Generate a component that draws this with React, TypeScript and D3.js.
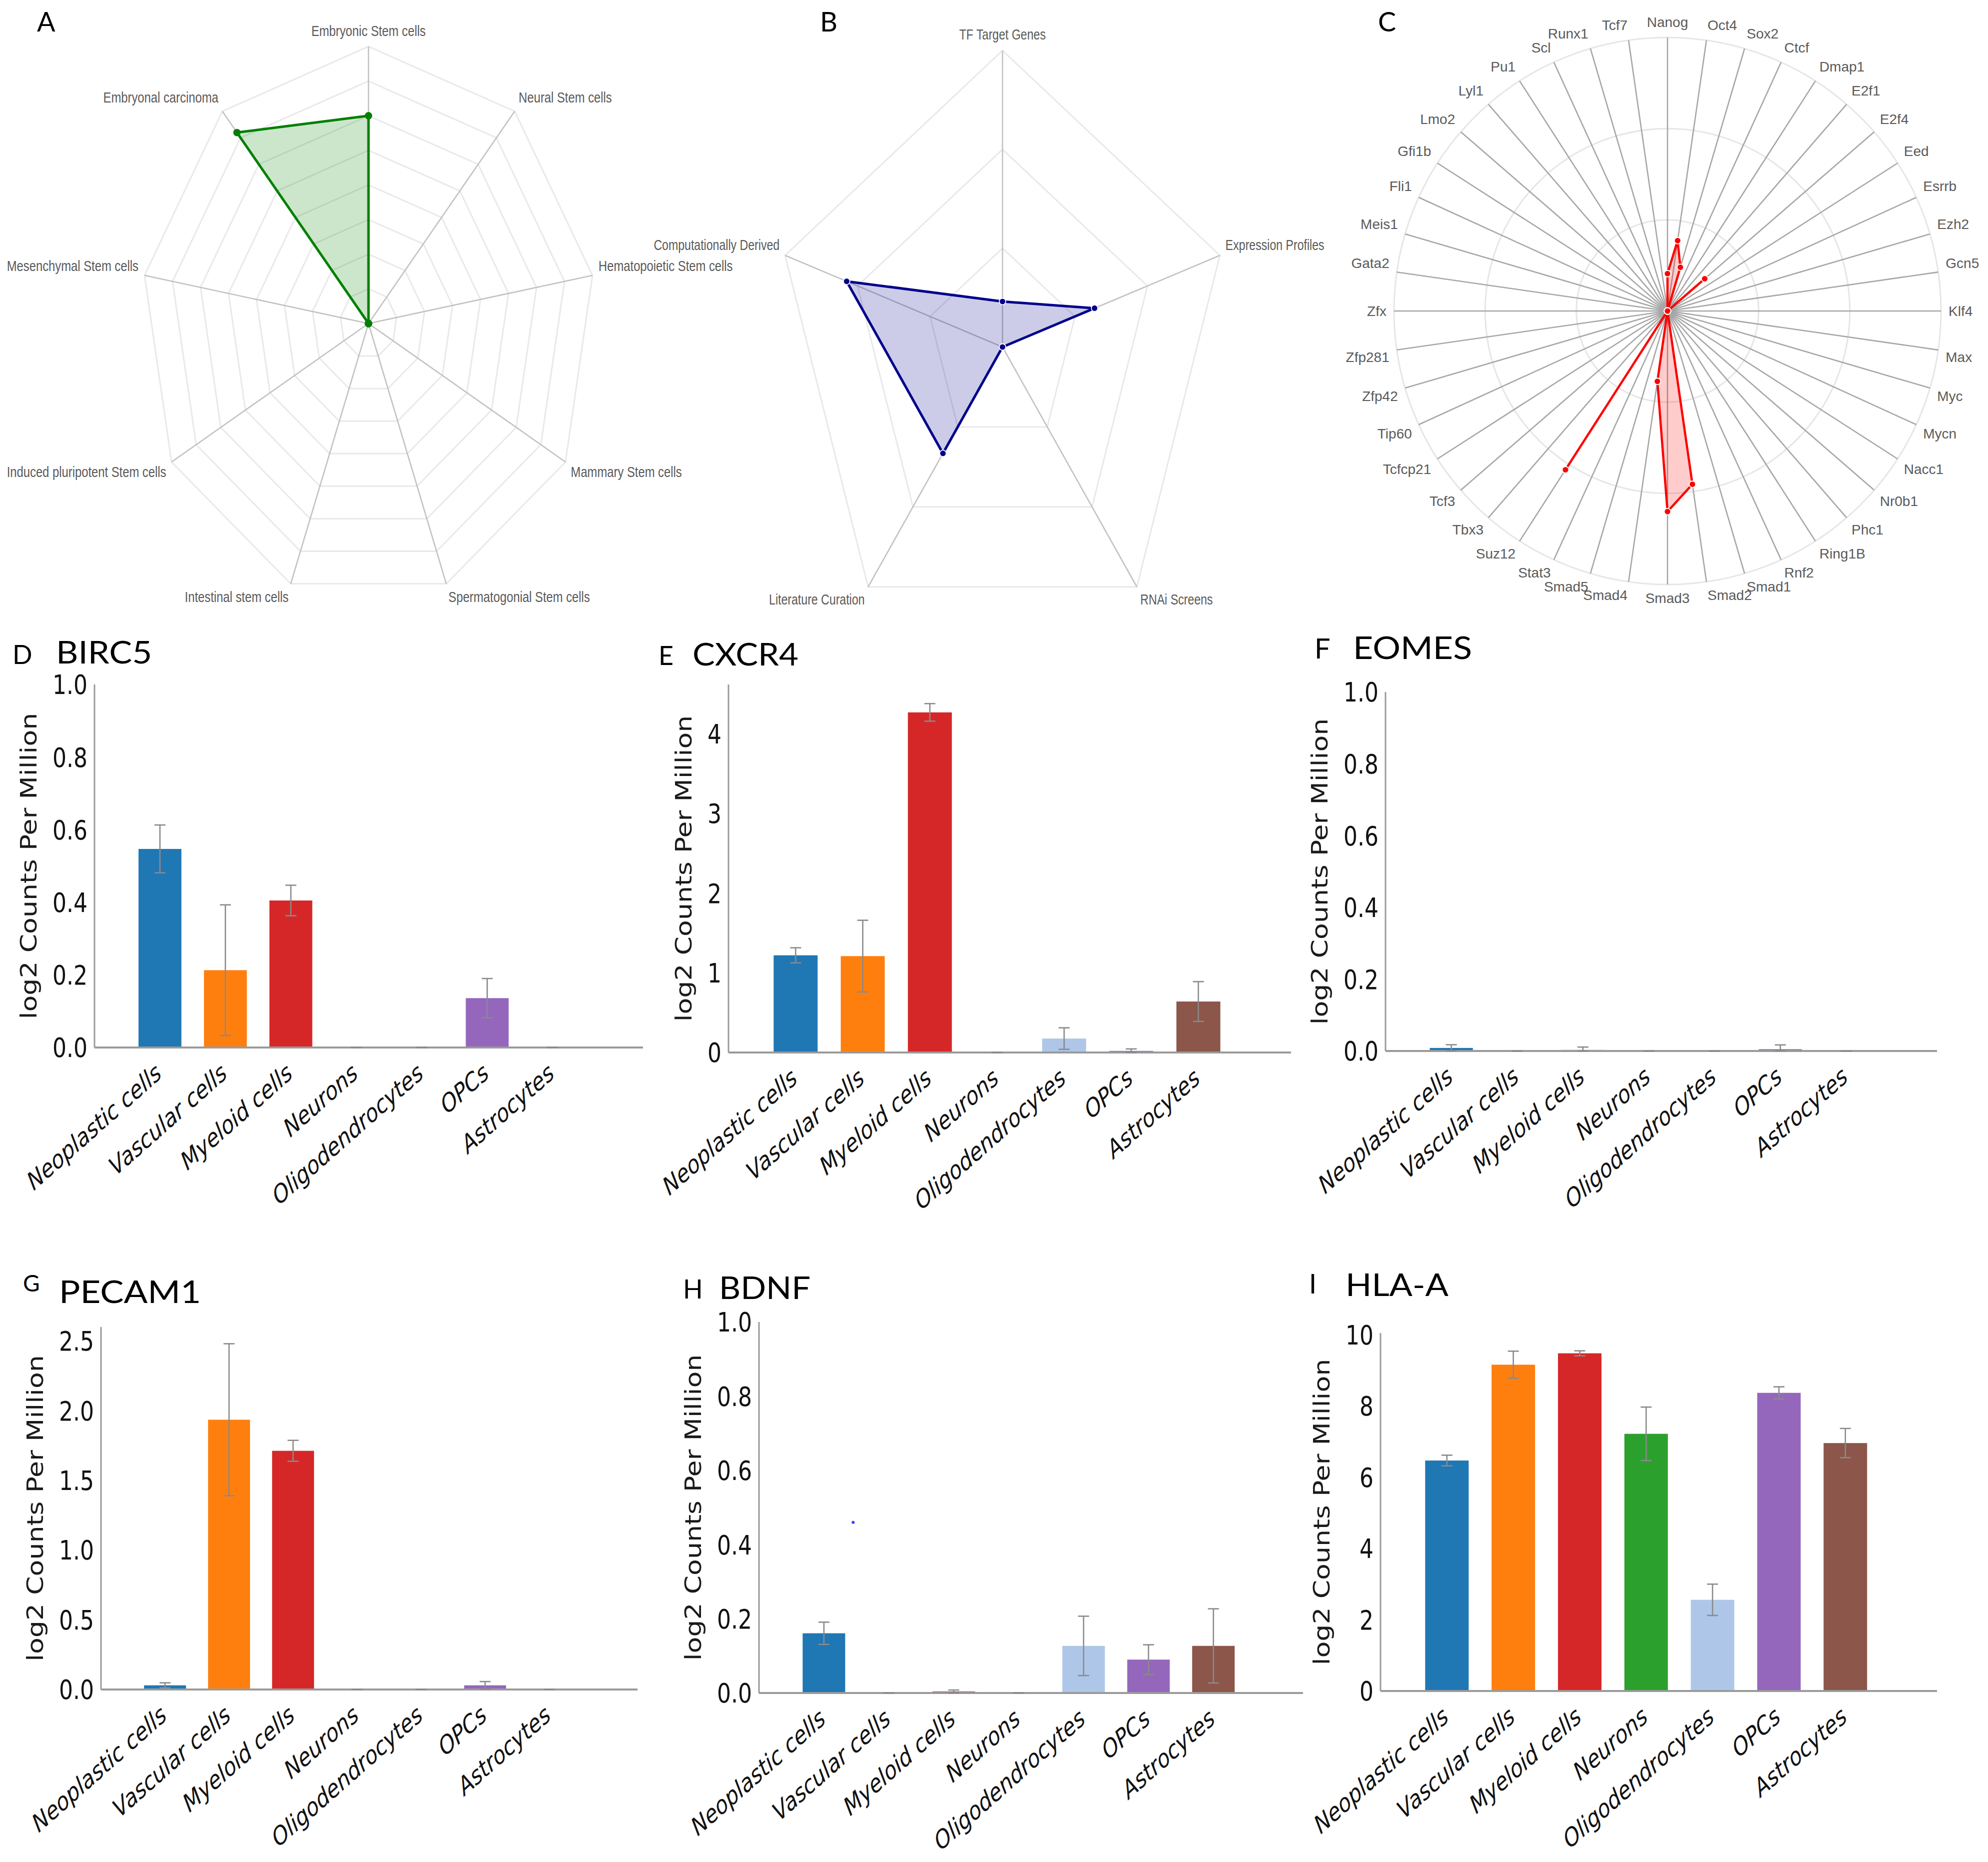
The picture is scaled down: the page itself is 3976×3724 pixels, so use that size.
import React from "react";
import * as d3 from "d3";

const W = 3976;
const H = 3724;

// ---------- Panel A: stem cell types ----------
const stemCellTypes = [
  "Embryonic Stem cells",
  "Neural Stem cells",
  "Hematopoietic Stem cells",
  "Mammary Stem cells",
  "Spermatogonial Stem cells",
  "Intestinal stem cells",
  "Induced pluripotent Stem cells",
  "Mesenchymal Stem cells",
  "Embryonal carcinoma",
];
const stemCellScores = [6.0, 0, 0, 0, 0, 0, 0, 0, 7.2];
const stemCellRings = [1, 2, 3, 4, 5, 6, 7, 8];

// ---------- Panel B: evidence types ----------
const evidenceTypes = [
  "TF Target Genes",
  "Expression Profiles",
  "RNAi Screens",
  "Literature Curation",
  "Computationally Derived",
];
const evidenceScores = [0.46, 1.27, 0, 1.33, 2.15];
const evidenceRings = [1, 2, 3];

// ---------- Panel C: transcription factors ----------
const tfNames = [
  "Nanog", "Oct4", "Sox2", "Ctcf", "Dmap1", "E2f1", "E2f4", "Eed", "Esrrb", "Ezh2", "Gcn5",
  "Klf4", "Max", "Myc", "Mycn", "Nacc1", "Nr0b1", "Phc1", "Ring1B", "Rnf2", "Smad1", "Smad2",
  "Smad3", "Smad4", "Smad5", "Stat3", "Suz12", "Tbx3", "Tcf3", "Tcfcp21", "Tip60", "Zfp42",
  "Zfp281", "Zfx", "Gata2", "Meis1", "Fli1", "Gfi1b", "Lmo2", "Lyl1", "Pu1", "Scl", "Runx1", "Tcf7",
];
const tfScores = [
  0.41, 0.78, 0.5, 0, 0, 0, 0.54, 0, 0, 0, 0,
  0, 0, 0, 0, 0, 0, 0, 0, 0, 0, 1.92,
  2.2, 0.78, 0, 0, 2.07, 0, 0, 0, 0, 0,
  0, 0, 0, 0, 0, 0, 0, 0, 0, 0, 0, 0,
];
const tfRings = [1, 2, 3];

// ---------- Bar panels ----------
const cellTypes = [
  "Neoplastic cells",
  "Vascular cells",
  "Myeloid cells",
  "Neurons",
  "Oligodendrocytes",
  "OPCs",
  "Astrocytes",
];
const cellColors = ["#1f77b4", "#ff7f0e", "#d62728", "#2ca02c", "#aec7e8", "#9467bd", "#8c564b"];

const birc5Mean = [0.547, 0.213, 0.405, 0, 0, 0.136, 0];
const birc5Err = [0.066, 0.18, 0.042, 0, 0, 0.054, 0];
const cxcr4Mean = [1.22, 1.21, 4.27, 0, 0.175, 0.02, 0.64];
const cxcr4Err = [0.095, 0.45, 0.11, 0, 0.135, 0.025, 0.25];
const eomesMean = [0.0085, 0, 0.003, 0, 0, 0.005, 0];
const eomesErr = [0.009, 0, 0.008, 0, 0, 0.012, 0];
const pecam1Mean = [0.03, 1.935, 1.712, 0, 0, 0.03, 0];
const pecam1Err = [0.018, 0.545, 0.075, 0, 0, 0.027, 0];
const bdnfMean = [0.161, 0, 0.004, 0, 0.127, 0.09, 0.127];
const bdnfErr = [0.03, 0, 0.004, 0, 0.08, 0.04, 0.1];
const hlaMean = [6.47, 9.16, 9.48, 7.22, 2.56, 8.37, 6.96];
const hlaErr = [0.15, 0.38, 0.07, 0.75, 0.44, 0.17, 0.41];
const bdnfStrayPoint = [0.45, 0.46];

const ticksUnit = [0, 0.2, 0.4, 0.6, 0.8, 1.0];
const ticksCxcr4 = [0, 1, 2, 3, 4];
const ticksPecam1 = [0, 0.5, 1.0, 1.5, 2.0, 2.5];
const ticksHla = [0, 2, 4, 6, 8, 10];

const yLabel = "log2 Counts Per Million";

// ---------- Radar component ----------
type RadarProps = {
  cx: number;
  cy: number;
  R: number;
  sx: number;
  labels: string[];
  values: number[];
  rings: number[];
  max: number;
  shape: "polygon" | "circle";
  color: string;
  fill: string;
  spokeColor: string;
  ringColor: string;
  fontSize: number;
  lineWidth: number;
  markerR: number;
  markerStroke: string;
};

function Radar(p: RadarProps) {
  const n = p.labels.length;
  const r = d3.scaleLinear().domain([0, p.max]).range([0, p.R]);
  const ang = (i: number) => (i * 2 * Math.PI) / n;
  const pt = (i: number, rad: number): [number, number] => [
    p.cx + p.sx * rad * Math.sin(ang(i)),
    p.cy - rad * Math.cos(ang(i)),
  ];
  const closed = d3.line().curve(d3.curveLinearClosed);
  const idx = d3.range(n);
  const dataPts = idx.map((i) => pt(i, r(p.values[i])));
  const pad = 15;
  const fs = p.fontSize;
  return (
    <g>
      {p.rings.map((v) =>
        p.shape === "polygon" ? (
          <path
            key={"ring" + v}
            d={closed(idx.map((i) => pt(i, r(v)))) || ""}
            fill="none"
            stroke={p.ringColor}
            strokeWidth={3}
          />
        ) : (
          <ellipse
            key={"ring" + v}
            cx={p.cx}
            cy={p.cy}
            rx={p.sx * r(v)}
            ry={r(v)}
            fill="none"
            stroke={p.ringColor}
            strokeWidth={3}
          />
        )
      )}
      {idx.map((i) => {
        const [x2, y2] = pt(i, p.R);
        return (
          <line
            key={"spoke" + i}
            x1={p.cx}
            y1={p.cy}
            x2={x2}
            y2={y2}
            stroke={p.spokeColor}
            strokeWidth={2.6}
          />
        );
      })}
      <path d={closed(dataPts) || ""} fill={p.fill} stroke="none" />
      <path
        d={closed(dataPts) || ""}
        fill="none"
        stroke={p.color}
        strokeWidth={p.lineWidth}
        strokeLinejoin="round"
      />
      {dataPts.map(([x, y], i) => (
        <circle
          key={"m" + i}
          cx={x}
          cy={y}
          r={p.markerR}
          fill={p.color}
          stroke={p.markerStroke}
          strokeWidth={1.8}
        />
      ))}
      {idx.map((i) => {
        const a = ang(i);
        const s = Math.sin(a);
        const c = Math.cos(a);
        const [x, y] = pt(i, p.R + pad);
        const anchor = s > 0.1 ? "start" : s < -0.1 ? "end" : "middle";
        const dy = c > 0.1 ? -0.22 * fs : c < -0.1 ? 0.78 * fs : 0.36 * fs;
        return (
          <text
            key={"lab" + i}
            transform={`translate(${x},${y}) scale(${p.sx},1)`}
            y={dy}
            textAnchor={anchor}
            fontSize={fs}
            fontFamily="'Liberation Sans', Arial, sans-serif"
            fill="#5a5a5a"
          >
            {p.labels[i]}
          </text>
        );
      })}
    </g>
  );
}

// ---------- Bar component ----------
const K = 1.22; // vertical stretch of the bar panels
const TF = 44; // tick font size
const XF = 41; // x tick label font size

type BarProps = {
  axisX: number;
  topY: number;
  zeroY: number;
  rightX: number;
  yMax: number;
  ticks: number[];
  decimals: number;
  means: number[];
  errs: number[];
  letter: string;
  letterX: number;
  letterY: number;
  letterSize: number;
  title: string;
  titleX: number;
  titleY: number;
  titleW: number;
  stray?: number[];
};

function BarPanel(p: BarProps) {
  const x = d3.scaleLinear().domain([-1, 7.38]).range([p.axisX, p.rightX]);
  const y = d3.scaleLinear().domain([0, p.yMax]).range([p.zeroY, p.topY]);
  const bw = x(0.655) - x(0);
  const fmt = d3.format(`.${p.decimals}f`);
  const maxChars = d3.max(p.ticks.map((t) => fmt(t).length)) || 1;
  const hasDot = p.decimals > 0;
  const tickW = (hasDot ? (maxChars - 1) * 0.636 + 0.318 : maxChars * 0.636) * TF;
  const labelX = p.axisX - 14 - tickW - 27 - 20;
  const capHalf = 11;
  return (
    <g>
      <text
        x={p.letterX}
        y={p.letterY}
        fontSize={p.letterSize}
        fontFamily="Lato, 'Open Sans', sans-serif"
        fill="#000"
      >
        {p.letter}
      </text>
      <text
        x={p.titleX}
        y={p.titleY}
        fontSize={62}
        fontFamily="Lato, 'Open Sans', sans-serif"
        fill="#000"
        textLength={p.titleW}
        lengthAdjust="spacingAndGlyphs"
      >
        {p.title}
      </text>
      {p.means.map((m, i) => (
        <rect
          key={"b" + i}
          x={x(i) - bw / 2}
          y={y(m)}
          width={bw}
          height={Math.max(0, p.zeroY - y(m))}
          fill={cellColors[i]}
        />
      ))}
      <line x1={p.axisX} y1={p.zeroY} x2={p.axisX} y2={p.topY} stroke="#9a9a9a" strokeWidth={3} />
      <line x1={p.axisX} y1={p.zeroY} x2={p.rightX} y2={p.zeroY} stroke="#9a9a9a" strokeWidth={4} />
      {p.means.map((m, i) => {
        const lo = y(Math.max(0, m - p.errs[i]));
        const hi = y(m + p.errs[i]);
        const cx = x(i);
        return (
          <g key={"e" + i} stroke="#8a8a8a" strokeWidth={2.6}>
            <line x1={cx} x2={cx} y1={lo} y2={hi} />
            <line x1={cx - capHalf} x2={cx + capHalf} y1={hi} y2={hi} />
            <line x1={cx - capHalf} x2={cx + capHalf} y1={lo} y2={lo} />
          </g>
        );
      })}
      {p.stray ? (
        <circle cx={x(p.stray[0])} cy={y(p.stray[1])} r={3} fill="#3a3aff" />
      ) : null}
      {p.ticks.map((t) => (
        <text
          key={"t" + t}
          transform={`translate(${p.axisX - 14},${y(t)}) scale(1,${K})`}
          y={0.36 * TF}
          textAnchor="end"
          fontSize={TF}
          fontFamily="'DejaVu Sans', sans-serif"
          fill="#111"
        >
          {fmt(t)}
        </text>
      ))}
      {cellTypes.map((c, i) => (
        <text
          key={"x" + i}
          transform={`translate(${x(i) + 6},${p.zeroY + 58}) scale(1,${K}) rotate(-36)`}
          textAnchor="end"
          fontSize={XF}
          fontStyle="italic"
          fontFamily="'DejaVu Sans', sans-serif"
          fill="#111"
        >
          {c}
        </text>
      ))}
      <text
        transform={`translate(${labelX},${(p.zeroY + p.topY) / 2}) scale(1,${K}) rotate(-90)`}
        y={15}
        textAnchor="middle"
        fontSize={TF}
        fontFamily="'DejaVu Sans', sans-serif"
        fill="#1a1a1a"
      >
        {yLabel}
      </text>
    </g>
  );
}

export default function App() {
  const letterStyle = {
    fontSize: 54,
    fontFamily: "Lato, 'Open Sans', sans-serif",
    fill: "#000",
  } as const;
  return (
    <svg
      width={W}
      height={H}
      viewBox={`0 0 ${W} ${H}`}
      style={{ position: "absolute", left: 0, top: 0, background: "#fff", display: "block" }}
    >
      <rect x={0} y={0} width={W} height={H} fill="#fff" />

      {/* Row 1 radars */}
      <text x={74} y={63} {...letterStyle}>A</text>
      <text x={1640} y={63} {...letterStyle}>B</text>
      <text x={2756} y={63} {...letterStyle}>C</text>

      <Radar
        cx={737}
        cy={647}
        R={554}
        sx={0.821}
        labels={stemCellTypes}
        values={stemCellScores}
        rings={stemCellRings}
        max={8}
        shape="polygon"
        color="#008000"
        fill="rgba(0,128,0,0.2)"
        spokeColor="#c2c2c2"
        ringColor="#e9e9e9"
        fontSize={29}
        lineWidth={5}
        markerR={6.5}
        markerStroke="#008000"
      />
      <Radar
        cx={2005}
        cy={694}
        R={593}
        sx={0.771}
        labels={evidenceTypes}
        values={evidenceScores}
        rings={evidenceRings}
        max={3}
        shape="polygon"
        color="#00008b"
        fill="rgba(0,0,139,0.2)"
        spokeColor="#c2c2c2"
        ringColor="#e9e9e9"
        fontSize={30}
        lineWidth={5}
        markerR={6.5}
        markerStroke="#ffffff"
      />
      <Radar
        cx={3335}
        cy={622}
        R={547}
        sx={1}
        labels={tfNames}
        values={tfScores}
        rings={tfRings}
        max={3}
        shape="circle"
        color="#ff0000"
        fill="rgba(255,0,0,0.2)"
        spokeColor="#a6a6a6"
        ringColor="#e6e6e6"
        fontSize={28}
        lineWidth={4.5}
        markerR={6.5}
        markerStroke="#ffffff"
      />

      {/* Row 2 */}
      <BarPanel
        axisX={189} topY={1369} zeroY={2095} rightX={1286} yMax={1.0}
        ticks={ticksUnit} decimals={1} means={birc5Mean} errs={birc5Err}
        letter="D" letterX={25} letterY={1328} letterSize={52}
        title="BIRC5" titleX={112} titleY={1327} titleW={192}
      />
      <BarPanel
        axisX={1457} topY={1369} zeroY={2105} rightX={2582} yMax={4.62}
        ticks={ticksCxcr4} decimals={0} means={cxcr4Mean} errs={cxcr4Err}
        letter="E" letterX={1317} letterY={1330} letterSize={52}
        title="CXCR4" titleX={1385} titleY={1331} titleW={212}
      />
      <BarPanel
        axisX={2771} topY={1384} zeroY={2102} rightX={3874} yMax={1.0}
        ticks={ticksUnit} decimals={1} means={eomesMean} errs={eomesErr}
        letter="F" letterX={2629} letterY={1317} letterSize={56}
        title="EOMES" titleX={2706} titleY={1318} titleW={238}
      />

      {/* Row 3 */}
      <BarPanel
        axisX={202} topY={2654} zeroY={3379} rightX={1275} yMax={2.6}
        ticks={ticksPecam1} decimals={1} means={pecam1Mean} errs={pecam1Err}
        letter="G" letterX={46} letterY={2583} letterSize={46}
        title="PECAM1" titleX={118} titleY={2606} titleW={284}
      />
      <BarPanel
        axisX={1518} topY={2644} zeroY={3386} rightX={2606} yMax={1.0}
        ticks={ticksUnit} decimals={1} means={bdnfMean} errs={bdnfErr}
        letter="H" letterX={1366} letterY={2597} letterSize={52}
        title="BDNF" titleX={1438} titleY={2598} titleW={183}
        stray={bdnfStrayPoint}
      />
      <BarPanel
        axisX={2761} topY={2666} zeroY={3382} rightX={3874} yMax={10.05}
        ticks={ticksHla} decimals={0} means={hlaMean} errs={hlaErr}
        letter="I" letterX={2618} letterY={2587} letterSize={54}
        title="HLA-A" titleX={2691} titleY={2592} titleW={206}
      />
    </svg>
  );
}
